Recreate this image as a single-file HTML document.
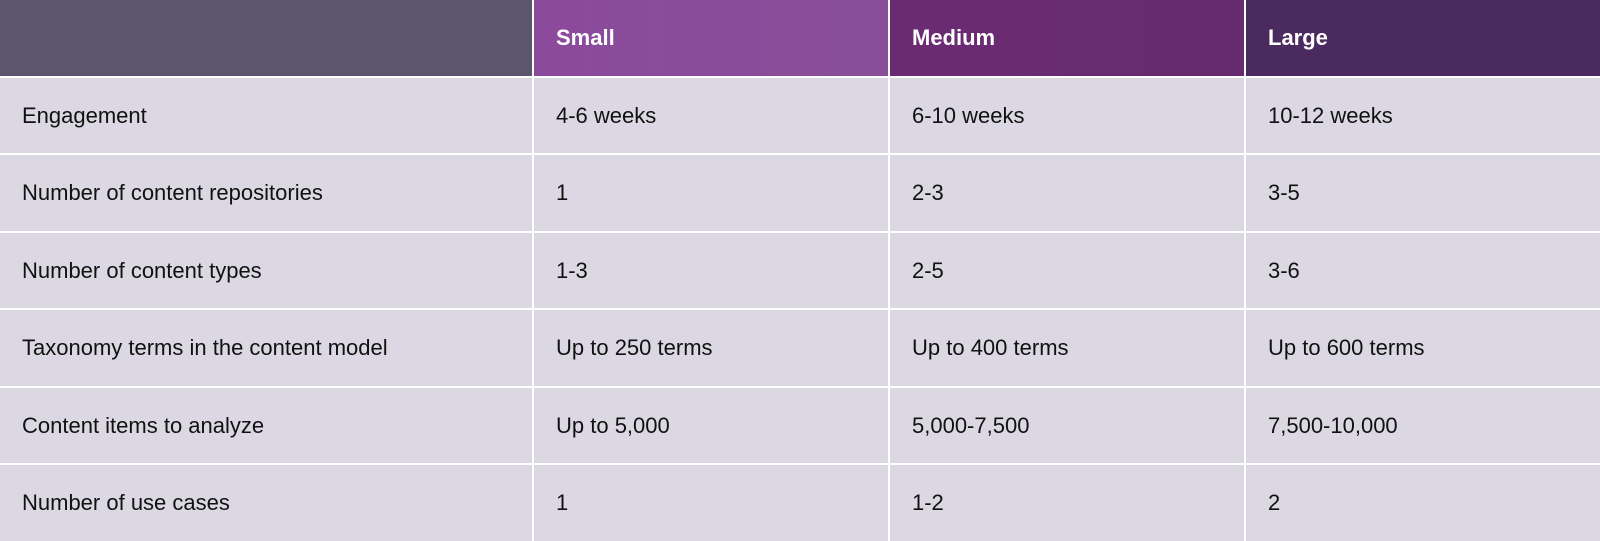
<!DOCTYPE html>
<html><head><style>
body{margin:0;width:1600px;height:541px;background:#fff;position:relative;overflow:hidden;font-family:"Liberation Sans",sans-serif;}
.c{position:absolute;box-sizing:border-box;background:#dbd8e3;color:#111;font-size:22px;display:flex;align-items:center;padding-left:22px;}
.h{color:#fff;font-weight:bold;font-size:22px;}
</style></head><body>
<div class="c h" style="left:0;top:0;width:532px;height:76px;background:#5d5470"></div>
<div class="c h" style="left:534px;top:0;width:354px;height:76px;background:linear-gradient(90deg,#8c4a9c,#884e98)">Small</div>
<div class="c h" style="left:890px;top:0;width:354px;height:76px;background:linear-gradient(90deg,#6b2b73,#662a6e)">Medium</div>
<div class="c h" style="left:1246px;top:0;width:354px;height:76px;background:#4b2a60">Large</div>
<div id="rows"></div>
<script>
var d=[["Engagement","4-6 weeks","6-10 weeks","10-12 weeks"],["Number of content repositories","1","2-3","3-5"],["Number of content types","1-3","2-5","3-6"],["Taxonomy terms in the content model","Up to 250 terms","Up to 400 terms","Up to 600 terms"],["Content items to analyze","Up to 5,000","5,000-7,500","7,500-10,000"],["Number of use cases","1","1-2","2"]];
var xs=[0,534,890,1246],ws=[532,354,354,354],h="";
for(var r=0;r<6;r++){var t=Math.round(78+r*77.4);var b=(r==5)?541:Math.round(78+(r+1)*77.4)-2;for(var c=0;c<4;c++){h+='<div class="c" style="left:'+xs[c]+'px;top:'+t+'px;width:'+ws[c]+'px;height:'+(b-t)+'px">'+d[r][c]+'</div>';}}
document.getElementById("rows").outerHTML=h;
</script>
</body></html>
